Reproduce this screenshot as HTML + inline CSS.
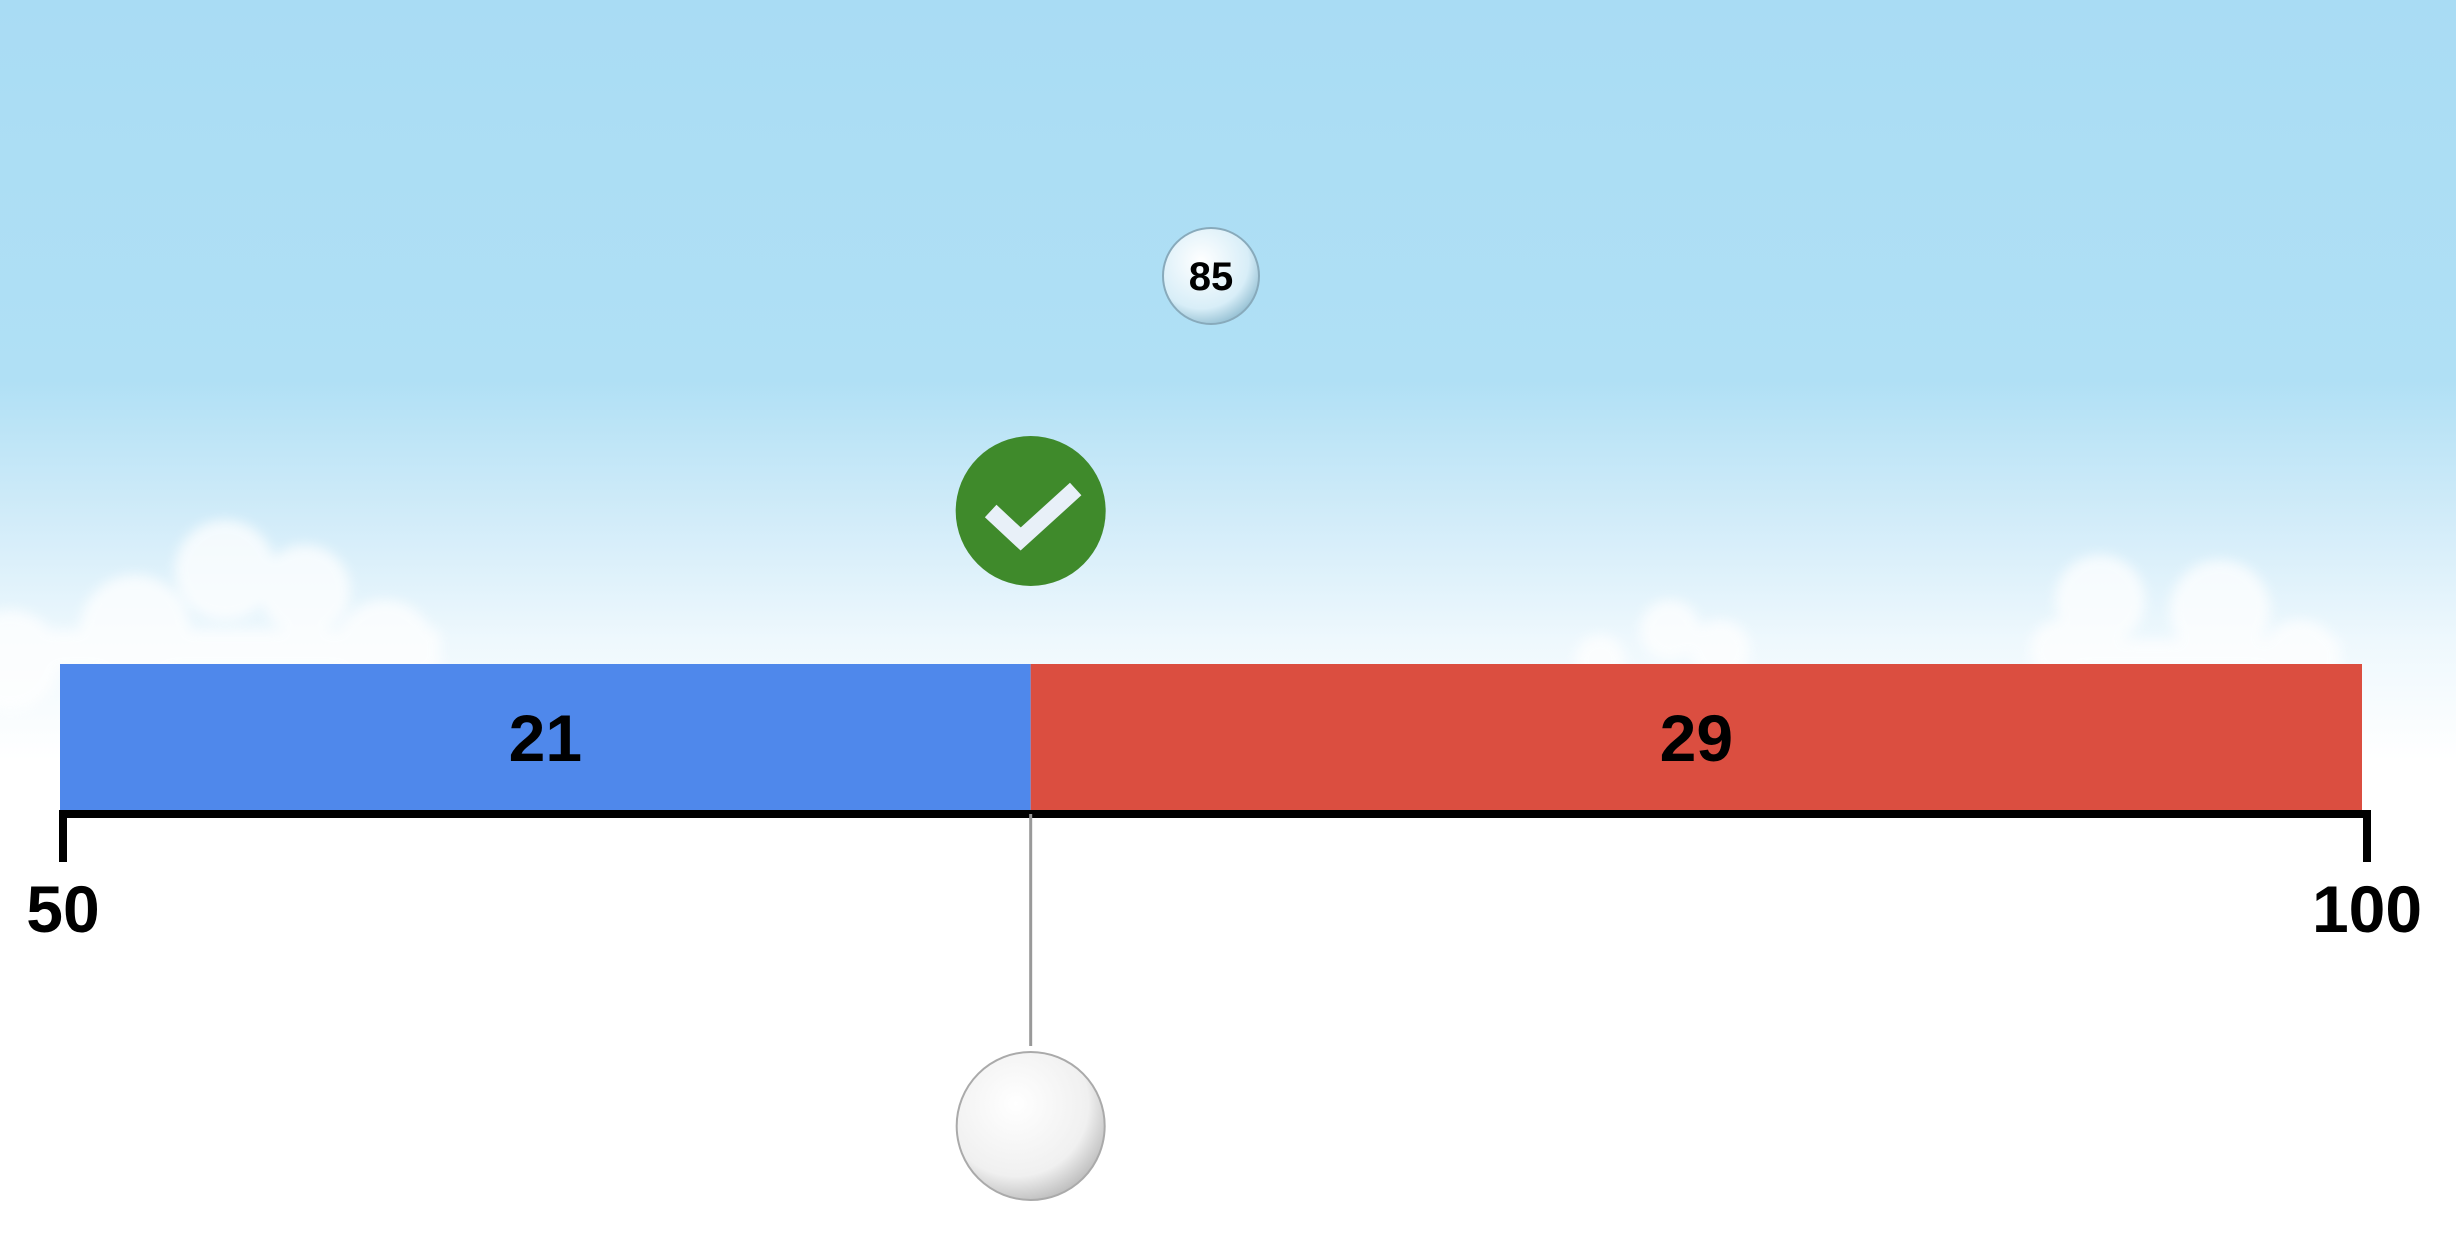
<!DOCTYPE html>
<html><head><meta charset="utf-8"><style>
html,body{margin:0;padding:0;width:2456px;height:1244px;overflow:hidden}
body{background:linear-gradient(#a9dcf4 0px,#b0e0f5 380px,#d2ecf9 520px,#eef8fd 640px,#fff 760px,#fff 1244px);font-family:"Comic Sans MS","Liberation Sans",sans-serif}
svg{position:absolute;left:0;top:0}
</style></head><body>
<svg id="chart" width="2456" height="1244" viewBox="0 0 2456 1244">
<defs>
<radialGradient id="bub" cx="0.4" cy="0.35" r="0.7">
<stop offset="0" stop-color="#ffffff"/><stop offset="0.7" stop-color="#f0f0f0"/><stop offset="1" stop-color="#b8b8b8"/></radialGradient>
<radialGradient id="bub2" cx="0.4" cy="0.35" r="0.7">
<stop offset="0" stop-color="#ffffff"/><stop offset="0.7" stop-color="#d8eef8"/><stop offset="1" stop-color="#8fbcd0"/></radialGradient>
<filter id="blur"><feGaussianBlur stdDeviation="6"/></filter>
</defs>
<g id="clouds" fill="#ffffff" opacity="0.75" filter="url(#blur)">
<circle cx="225" cy="570" r="50"/><circle cx="135" cy="630" r="55"/><circle cx="305" cy="590" r="45"/><circle cx="385" cy="650" r="50"/><circle cx="10" cy="660" r="50"/>
<rect x="0" y="630" width="440" height="40"/>
<circle cx="1670" cy="630" r="30"/><circle cx="1720" cy="650" r="30"/><circle cx="1600" cy="660" r="25"/>
<circle cx="2100" cy="600" r="45"/><circle cx="2220" cy="610" r="50"/><circle cx="2300" cy="660" r="40"/><circle cx="2060" cy="650" r="30"/>
<rect x="2040" y="640" width="300" height="30"/>
</g>
<g id="plot"></g>
</svg>
<script>
const axisMin = 50;
const axisMax = 100;
const segmentValues = [21, 29];
const segmentLabels = ["21", "29"];
const tickLabels = ["50", "100"];
const bubbleValue = 85;
const answerValue = 71;

const X0 = 63, X1 = 2367, barTop = 664, axisY = 814;
const sx = v => X0 + (v - axisMin) / (axisMax - axisMin) * (X1 - X0);
const NS = "http://www.w3.org/2000/svg";
const g = document.getElementById('plot');
function mk(tag, attrs, parent){const e=document.createElementNS(NS,tag);for(const k in attrs)e.setAttribute(k,attrs[k]);(parent||g).appendChild(e);return e;}
const colors = ["#4f88eb","#db4e40"];
let start = axisMin;
segmentValues.forEach((v,i)=>{
  const x = sx(start) - (i===0?3:0), w = sx(start+v)-x - (i===segmentValues.length-1?5:0);
  const r = mk('rect',{x:x,y:barTop,width:w,height:axisY-barTop,fill:colors[i]});
  
  
  const t = mk('text',{x:x+w/2,y:(barTop+axisY)/2+22,'text-anchor':'middle','font-size':66,'font-weight':'bold',fill:'#000'});
  t.textContent = segmentLabels[i];
  
  
  start += v;
});
const ax = mk('path',{d:`M${X0} 862 V${axisY} H${X1} V862`,stroke:'#000','stroke-width':8,fill:'none'});


[axisMin, axisMax].forEach((v,i)=>{
  const t = mk('text',{x:sx(v),y:932,'text-anchor':'middle','font-size':66,'font-weight':'bold',fill:'#000'});
  t.textContent = tickLabels[i];
  
  
});
const ax2 = sx(answerValue);
const ln = mk('line',{x1:ax2,y1:axisY,x2:ax2,y2:1046,stroke:'#999','stroke-width':3});


const hb = mk('circle',{cx:ax2,cy:1126,r:74,fill:'url(#bub)',stroke:'#aaa','stroke-width':2});


const ck = mk('g',{});


mk('circle',{cx:ax2,cy:511,r:75,fill:'#3f8a2b'},ck);
mk('path',{d:`M${ax2-40} ${511} l30 28 l55 -50`,stroke:'#e8f0f8','stroke-width':17,fill:'none'},ck);
const bx = 1211;
const bb = mk('g',{});


mk('circle',{cx:bx,cy:276,r:48,fill:'url(#bub2)',stroke:'#8ab','stroke-width':2},bb);
const bt = mk('text',{x:bx,y:290,'text-anchor':'middle','font-size':40,'font-weight':'bold',fill:'#000'},bb);
bt.textContent = String(bubbleValue);
</script>
</body></html>
